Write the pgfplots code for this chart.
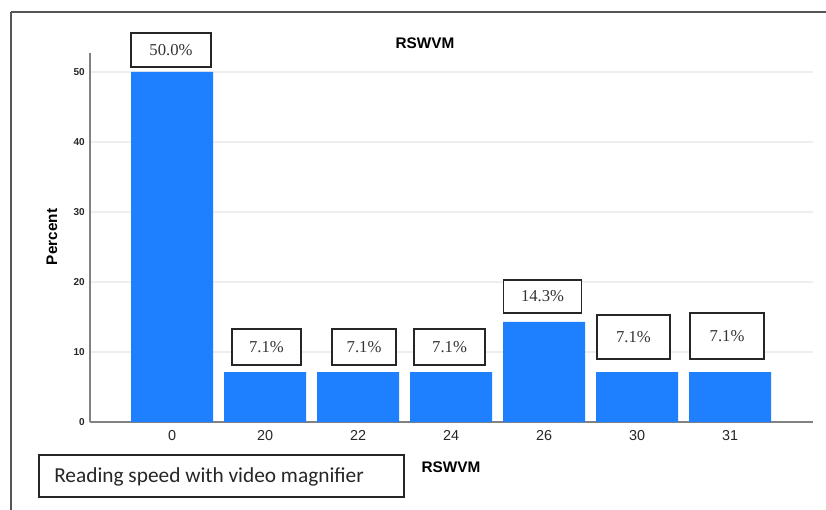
\documentclass[border=0pt]{standalone}
\usepackage{pgfplots}
\pgfplotsset{compat=1.18}
\usepackage{fontspec}
\setmainfont{Liberation Sans}
\newfontfamily\seriffont{Liberation Serif}
\newfontfamily\carlito{Carlito}
\definecolor{barblue}{RGB}{30,128,255}
\definecolor{axgray}{RGB}{130,130,130}
\definecolor{gridgray}{RGB}{238,238,238}
\definecolor{framegray}{RGB}{85,85,85}
\begin{document}
\begin{tikzpicture}
\useasboundingbox (0,0) rectangle (619.5pt,-382.5pt);
\begin{axis}[
  at={(67.5pt,-316.5pt)}, anchor=south west,
  scale only axis, width=542.25pt, height=276.75pt,
  xmin=-0.882, xmax=6.892, ymin=0, ymax=52.71,
  clip=false,
  /pgf/number format/assume math mode=true,
  axis x line*=bottom, axis y line*=left,
  axis line style={axgray, line width=0.8pt, -},
  ymajorgrids, grid style={gridgray, line width=0.8pt},
  ytick={0,10,20,30,40,50},
  xtick={0,1,2,3,4,5,6},
  xticklabels={0,20,22,24,26,30,31},
  major tick length=0pt,
  xticklabel style={font=\fontsize{10.8}{12}\selectfont, text=black!85, yshift=-3pt},
  yticklabel style={font=\bfseries\fontsize{7.5}{9}\selectfont, text=black!85, xshift=-0.5pt},
]
\addplot[ybar, fill=barblue, draw=none, bar width=61.5pt]
  coordinates {(0,50) (1,7.14) (2,7.14) (3,7.14) (4,14.29) (5,7.14) (6,7.14)};
\tikzset{lbl/.style={draw=black!85, line width=1pt, fill=white, inner sep=0pt,
  font=\seriffont\fontsize{12.5}{14}\selectfont, text=black!80}}
\node[lbl, minimum width=60pt, minimum height=25.5pt] at (axis cs:-0.011,53.14) {50.0\%};
\node[lbl, minimum width=51.75pt, minimum height=27pt] at (axis cs:1.016,10.71) {7.1\%};
\node[lbl, minimum width=48pt, minimum height=27pt] at (axis cs:2.065,10.71) {7.1\%};
\node[lbl, minimum width=53.25pt, minimum height=27pt] at (axis cs:2.984,10.71) {7.1\%};
\node[lbl, minimum width=58.5pt, minimum height=24.75pt] at (axis cs:3.984,17.93) {14.3\%};
\node[lbl, minimum width=54.75pt, minimum height=33pt] at (axis cs:4.962,12.14) {7.1\%};
\node[lbl, minimum width=55.5pt, minimum height=34.5pt] at (axis cs:5.968,12.29) {7.1\%};
\end{axis}
\begin{scope}[x=0.75pt, y=-0.75pt]
\draw[framegray, line width=1.1pt] (11,12) -- (1000,12);
\draw[framegray, line width=1.1pt] (11,12) -- (11,600);
\node[font=\bfseries\fontsize{11.5}{13}\selectfont] at (425,43) {RSWVM};
\node[font=\bfseries\fontsize{11.5}{13}\selectfont] at (451,467) {RSWVM};
\node[font=\bfseries\fontsize{11.5}{13}\selectfont, rotate=90] at (52,237) {Percent};
\draw[black!85, line width=1pt] (39,455) rectangle (404,497);
\node[anchor=west, inner sep=0pt, font=\carlito\fontsize{16}{18}\selectfont, text=black!85] at (54,477) {Reading speed with video magnifier};
\end{scope}
\end{tikzpicture}
\end{document}
